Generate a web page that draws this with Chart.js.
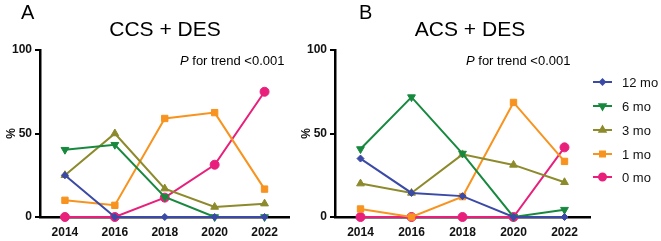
<!DOCTYPE html>
<html>
<head>
<meta charset="utf-8">
<script src="https://cdn.jsdelivr.net/npm/chart.js"></script>
<style>
  html, body { margin: 0; padding: 0; background: #fff; }
  #wrap { position: relative; width: 661px; height: 241px; overflow: hidden; }
  #chartA { position: absolute; left: 0; top: 0; }
  #chartB { position: absolute; left: 295px; top: 0; }
</style>
</head>
<body>
<div id="wrap">
  <canvas id="chartA" width="295" height="241"></canvas>
  <canvas id="chartB" width="366" height="241"></canvas>
</div>
<script>
// data
const years = [2014, 2016, 2018, 2020, 2022];
const seriesNames = ['12 mo', '6 mo', '3 mo', '1 mo', '0 mo'];
const yTicks = [0, 50, 100];

// CCS + DES
const ccs12 = [25, 0, 0, 0, 0];
const ccs6 = [40.3, 43.3, 12, 0, 0];
const ccs3 = [25, 50, 17, 6, 8];
const ccs1 = [10, 7, 59, 62.5, 16.7];
const ccs0 = [0, 0, 11.6, 31.3, 75];

// ACS + DES
const acs12 = [35, 14.4, 12.5, 0, 0];
const acs6 = [40.7, 71.8, 38, 0, 4.4];
const acs3 = [20, 14.4, 37.5, 31.2, 20.8];
const acs1 = [4.8, 0, 12.2, 68.6, 33.3];
const acs0 = [0, 0, 0, 0, 41.7];

const colors = ['#3a4aa6', '#17893e', '#8c8a2b', '#f7931e', '#e8207b'];
const markers = ['rectRot', 'triangle', 'triangle', 'rect', 'circle'];
const rotations = [0, 180, 0, 0, 0];
const radii = [3.5, 4.5, 4.5, 4.5, 4.5];

function makeSets(arrs) {
  return arrs.map(function(a, i) {
    return {
      label: seriesNames[i],
      data: a.map(function(v, j) { return { x: years[j], y: v }; }),
      borderColor: colors[i],
      backgroundColor: colors[i],
      borderWidth: 2,
      pointStyle: markers[i],
      pointRotation: rotations[i],
      pointRadius: radii[i],
      pointBorderWidth: 1,
      tension: 0,
      clip: false
    };
  });
}

// titles, labels and legend drawn on canvas
const textPlugin = {
  id: 'texts',
  afterDraw: function(chart, args, opts) {
    const ctx = chart.ctx;
    ctx.save();
    ctx.fillStyle = '#000';
    ctx.textBaseline = 'alphabetic';
    ctx.textAlign = 'left';
    ctx.font = '20px "Liberation Sans", Arial, sans-serif';
    ctx.fillText(opts.letter, opts.letterX, 19);
    ctx.textAlign = 'center';
    ctx.font = '21px "Liberation Sans", Arial, sans-serif';
    ctx.fillText(opts.title, opts.titleX, 36);
    ctx.textAlign = 'left';
    ctx.font = 'italic 13px "Liberation Sans", Arial, sans-serif';
    ctx.fillText('P', opts.pX, 65);
    const w = ctx.measureText('P').width;
    ctx.font = '13px "Liberation Sans", Arial, sans-serif';
    ctx.fillText(' for trend <0.001', opts.pX + w, 65);

    if (opts.legend) {
      const rows = [82, 106, 130, 154, 177];
      seriesNames.forEach(function(name, i) {
        const y = rows[i];
        ctx.strokeStyle = colors[i];
        ctx.lineWidth = 2;
        ctx.beginPath();
        ctx.moveTo(opts.legendX, y);
        ctx.lineTo(opts.legendX + 19, y);
        ctx.stroke();
        ctx.fillStyle = colors[i];
        Chart.helpers.drawPoint(ctx, {
          pointStyle: markers[i], rotation: rotations[i],
          radius: radii[i] - 1, borderWidth: 1
        }, opts.legendX + 9.5, y);
        ctx.fillStyle = '#111';
        ctx.font = '13px "Liberation Sans", Arial, sans-serif';
        ctx.textBaseline = 'middle';
        ctx.fillText(name, opts.legendX + 29, y + 1);
        ctx.textBaseline = 'alphabetic';
      });
    }
    ctx.restore();
  }
};

function makeChart(id, arrs, padRight, texts) {
  return new Chart(document.getElementById(id), {
    type: 'line',
    data: { datasets: makeSets(arrs) },
    plugins: [textPlugin],
    options: {
      responsive: false,
      animation: false,
      events: [],
      layout: { padding: { top: 50, right: padRight, left: 0, bottom: 0 } },
      plugins: {
        legend: { display: false },
        tooltip: { enabled: false },
        texts: texts
      },
      scales: {
        x: {
          type: 'linear',
          min: 2013,
          max: 2023,
          afterBuildTicks: function(scale) {
            scale.ticks = years.map(function(v) { return { value: v }; });
          },
          afterFit: function(scale) { scale.height = 24; },
          border: { color: '#000', width: 2.5 },
          grid: { display: true, drawOnChartArea: false, drawTicks: false },
          ticks: {
            padding: 8,
            color: '#111',
            maxRotation: 0,
            autoSkip: false,
            font: { family: '"Liberation Sans", Arial, sans-serif', size: 12, weight: 'bold' },
            callback: function(v) { return String(v); }
          }
        },
        y: {
          min: 0,
          max: 100,
          afterBuildTicks: function(scale) {
            scale.ticks = yTicks.map(function(v) { return { value: v }; });
          },
          afterFit: function(scale) { scale.width = 40; },
          border: { color: '#000', width: 2.5 },
          grid: { display: true, drawOnChartArea: false, drawTicks: true, tickLength: 5, color: '#000', lineWidth: 2 },
          title: {
            display: true,
            text: '%',
            color: '#111',
            padding: { top: 4, bottom: 0 },
            font: { family: '"Liberation Sans", Arial, sans-serif', size: 12, weight: 'bold' }
          },
          ticks: {
            padding: 3,
            color: '#111',
            font: { family: '"Liberation Sans", Arial, sans-serif', size: 12, weight: 'bold' }
          }
        }
      }
    }
  });
}

makeChart('chartA', [ccs12, ccs6, ccs3, ccs1, ccs0], 5, {
  letter: 'A', letterX: 21, title: 'CCS + DES', titleX: 165, pX: 180, legend: false
});
makeChart('chartB', [acs12, acs6, acs3, acs1, acs0], 71, {
  letter: 'B', letterX: 64, title: 'ACS + DES', titleX: 175, pX: 171, legend: true, legendX: 298
});
</script>
</body>
</html>
